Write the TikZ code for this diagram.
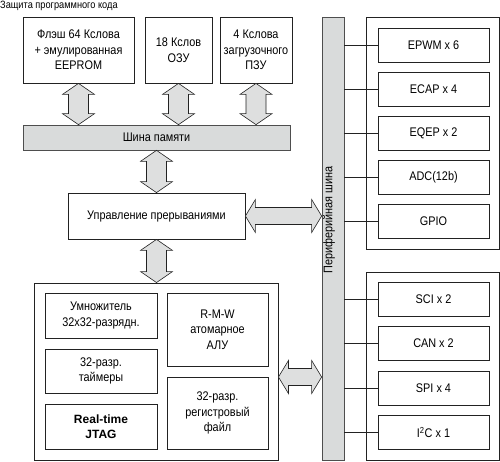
\documentclass[tikz,border=0pt]{standalone}
\usepackage{fontspec}
\setmainfont{Liberation Sans}[FakeStretch=0.87]
\newfontfamily\widesans{Liberation Sans}
\usepackage{tikz}
\usepackage{xcolor}
\usetikzlibrary{calc}
\definecolor{ink}{HTML}{222222}
\definecolor{busgray}{HTML}{D9DBDB}
\definecolor{arrgray}{HTML}{DEDFDF}
\tikzset{
  card/.style={draw=ink,fill=white,line width=0.8pt,align=center,
               inner sep=2pt,font=\fontsize{12.5}{15.5}\selectfont},
  frame/.style={draw=ink,fill=white,line width=0.9pt},
  bus/.style={draw=ink!80,fill=busgray,line width=0.7pt,
              font=\fontsize{12.5}{14}\selectfont},
  blockarr/.style={draw=ink,fill=arrgray,line width=0.6pt,line join=miter},
  tap/.style={draw=ink,line width=0.7pt}
}
% vertical double arrow, from a top point to a bottom point
\newcommand{\vdarrow}[2]{%
  \path[blockarr] let \p1=#1, \p2=#2 in
    (\x1,\y1) -- ++(16pt,-11pt) -- ++(-6pt,0) -- (\x1+10pt,\y2+11pt)
    -- ++(6pt,0) -- (\x1,\y2) -- ++(-16pt,11pt) -- ++(6pt,0)
    -- (\x1-10pt,\y1-11pt) -- ++(-6pt,0) -- cycle;}
% horizontal double arrow, from a left point to a right point
\newcommand{\hdarrow}[2]{%
  \path[blockarr] let \p1=#1, \p2=#2 in
    (\x1,\y1) -- ++(10pt,16.5pt) -- ++(0,-8pt) -- (\x2-10pt,\y1+8.5pt)
    -- ++(0,8pt) -- (\x2,\y1) -- ++(-10pt,-16.5pt) -- ++(0,8pt)
    -- (\x1+10pt,\y1-8.5pt) -- ++(0,-8pt) -- cycle;}

\begin{document}
\begin{tikzpicture}[x=1pt,y=-1pt]
    \path[use as bounding box] (0,0) rectangle (500,461);
    \node[anchor=west,inner sep=0pt,font=\fontsize{10.6}{12}\selectfont] (title) at (0,6)
      {Защита программного кода};

    % memory side
    \node[card,minimum width=111,minimum height=66] (flash) at (78.5,50)
      {Флэш 64 Кслова\\+ эмулированная\\EEPROM};
    \node[card,minimum width=67,minimum height=66] (ram) at (178.5,50)
      {18 Кслов\\ОЗУ};
    \node[card,minimum width=72,minimum height=66] (rom) at (256,50)
      {4 Кслова\\загрузочного\\ПЗУ};
    \node[bus,minimum width=267,minimum height=25] (membus) at (156.5,137.5)
      {Шина памяти};
    \node[card,minimum width=177,minimum height=46] (irq) at (156.5,216)
      {Управление прерываниями};

    % core
    \node[frame,minimum width=244,minimum height=177] (cpu) at (156,371.5) {};
    \node[card,minimum width=112,minimum height=45] (mul) at (101,315.5)
      {Умножитель\\32x32-разрядн.};
    \node[card,minimum width=112,minimum height=44] (timers) at (101,371)
      {32-разр.\\таймеры};
    \node[card,minimum width=112,minimum height=45,
          font=\fontsize{12}{15}\widesans\bfseries] (jtag) at (101,426.5)
      {Real-time\\JTAG};
    \node[card,minimum width=101,minimum height=73] (alu) at (217.5,329.5)
      {R-M-W\\атомарное\\АЛУ};
    \node[card,minimum width=101,minimum height=72] (regfile) at (217.5,413)
      {32-разр.\\регистровый\\файл};

    % peripheral side
    \node[bus,minimum width=22,minimum height=443] (perbus) at (333,238.5) {};
    \node[rotate=90,inner sep=0pt,font=\fontsize{12.5}{14}\selectfont] (perlabel) at (329,220)
      {Периферийная шина};
    \node[frame,minimum width=133,minimum height=232] (grpa) at (432.5,133) {};
    \node[frame,minimum width=133,minimum height=188] (grpb) at (432.5,366) {};

    \node[card,minimum width=111,minimum height=34] (epwm) at (433.5,45) {EPWM x 6};
    \node[card,minimum width=111,minimum height=34] (ecap) at (433.5,89.5) {ECAP x 4};
    \node[card,minimum width=111,minimum height=34] (eqep) at (433.5,133.5) {EQEP x 2};
    \node[card,minimum width=111,minimum height=34] (adc) at (433.5,177.5) {ADC(12b)};
    \node[card,minimum width=111,minimum height=34] (gpio) at (433.5,221.5) {GPIO};
    \node[card,minimum width=111,minimum height=34] (sci) at (433.5,299.5) {SCI x 2};
    \node[card,minimum width=111,minimum height=34] (can) at (433.5,343.5) {CAN x 2};
    \node[card,minimum width=111,minimum height=34] (spi) at (433.5,388.5) {SPI x 4};
    \node[card,minimum width=111,minimum height=34] (iic) at (433.5,432.5)
      {I\textsuperscript{2}C x 1};

    \foreach \n in {epwm,ecap,eqep,adc,gpio,sci,can,spi,iic}
      \draw[tap] (perbus.east |- \n.west) -- (\n.west);

    % block arrows
    \vdarrow{(flash.south)}{(flash.south |- membus.north)}
    \vdarrow{(ram.south)}{(ram.south |- membus.north)}
    \vdarrow{(rom.south)}{(rom.south |- membus.north)}
    \vdarrow{(membus.south -| irq.north)}{(irq.north)}
    \vdarrow{(irq.south)}{(irq.south |- cpu.north)}
    \hdarrow{(irq.east)}{(irq.east -| perbus.west)}
    \coordinate (cpuport) at ($(cpu.east)+(0,5.5)$);
    \hdarrow{(cpuport)}{(cpuport -| perbus.west)}
  \end{tikzpicture}
\end{document}
